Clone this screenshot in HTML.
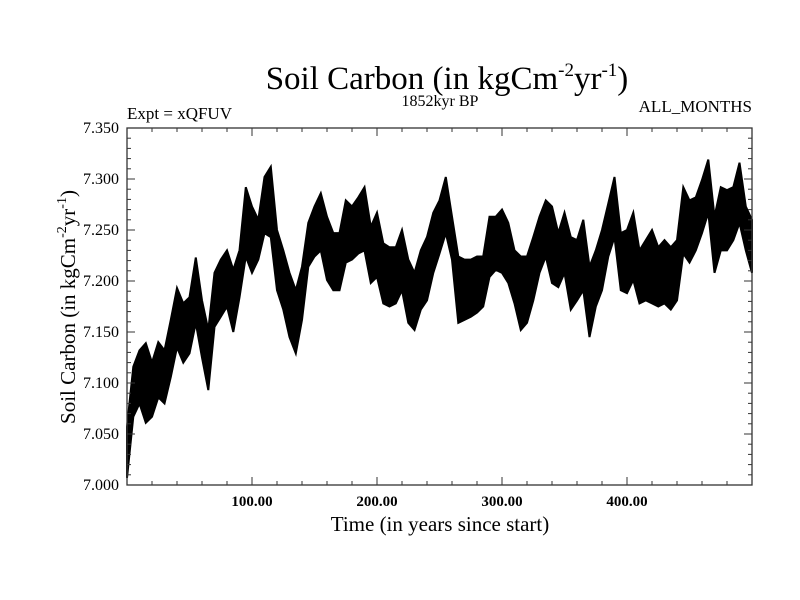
<!DOCTYPE html>
<html><head><meta charset="utf-8"><style>
body{margin:0;background:#fff;}
svg{display:block;font-family:"Liberation Serif",serif;}
</style></head><body>
<svg id="chart" width="800" height="600">
<rect width="800" height="600" fill="#fff"/>
<text x="447" y="89" font-size="33" text-anchor="middle">Soil Carbon (in kgCm<tspan font-size="19" dy="-13">-2</tspan><tspan dy="13">yr</tspan><tspan font-size="19" dy="-13">-1</tspan><tspan dy="13">)</tspan></text>
<text x="440" y="106" font-size="16" text-anchor="middle">1852kyr BP</text>
<text x="127" y="119" font-size="17">Expt = xQFUV</text>
<text x="752" y="112" font-size="17" text-anchor="end">ALL_MONTHS</text>
<text x="440" y="531" font-size="21" text-anchor="middle">Time (in years since start)</text>
<text transform="translate(75,307) rotate(-90)" font-size="21" text-anchor="middle">Soil Carbon (in kgCm<tspan font-size="14" dy="-9">-2</tspan><tspan dy="9">yr</tspan><tspan font-size="14" dy="-9">-1</tspan><tspan dy="9">)</tspan></text>
<g id="plot"></g>
</svg>
<script>
const years=[0,5,10,15,20,25,30,35,40,45,50,55,60,65,70,75,80,85,90,95,100,105,110,115,120,125,130,135,140,145,150,155,160,165,170,175,180,185,190,195,200,205,210,215,220,225,230,235,240,245,250,255,260,265,270,275,280,285,290,295,300,305,310,315,320,325,330,335,340,345,350,355,360,365,370,375,380,385,390,395,400,405,410,415,420,425,430,435,440,445,450,455,460,465,470,475,480,485,490,495,500];
const upper=[7.057,7.116,7.132,7.139,7.120,7.140,7.132,7.162,7.193,7.178,7.184,7.223,7.181,7.152,7.208,7.221,7.230,7.211,7.230,7.292,7.273,7.260,7.302,7.312,7.250,7.230,7.208,7.191,7.214,7.257,7.273,7.286,7.263,7.247,7.247,7.279,7.273,7.282,7.292,7.253,7.267,7.237,7.233,7.233,7.250,7.221,7.208,7.230,7.243,7.267,7.279,7.302,7.263,7.224,7.221,7.221,7.224,7.224,7.263,7.263,7.270,7.257,7.230,7.224,7.224,7.243,7.263,7.279,7.273,7.247,7.267,7.243,7.240,7.260,7.214,7.230,7.250,7.276,7.302,7.247,7.250,7.267,7.230,7.240,7.250,7.233,7.240,7.233,7.240,7.292,7.279,7.282,7.299,7.319,7.263,7.292,7.289,7.292,7.316,7.273,7.260];
const lower=[7.007,7.067,7.080,7.061,7.067,7.086,7.080,7.106,7.135,7.120,7.129,7.159,7.125,7.093,7.155,7.165,7.175,7.150,7.184,7.224,7.208,7.221,7.247,7.243,7.191,7.172,7.145,7.129,7.162,7.214,7.224,7.230,7.201,7.191,7.191,7.218,7.221,7.227,7.230,7.198,7.204,7.178,7.175,7.178,7.191,7.159,7.152,7.172,7.181,7.208,7.227,7.247,7.221,7.159,7.162,7.165,7.169,7.175,7.204,7.211,7.208,7.198,7.178,7.152,7.159,7.181,7.208,7.224,7.198,7.194,7.208,7.172,7.181,7.191,7.145,7.175,7.191,7.224,7.243,7.191,7.188,7.201,7.178,7.181,7.178,7.175,7.178,7.172,7.181,7.227,7.218,7.230,7.247,7.267,7.208,7.230,7.230,7.240,7.257,7.230,7.208];
const yTickLabels=["7.000","7.050","7.100","7.150","7.200","7.250","7.300","7.350"];
const xTickLabels=["100.00","200.00","300.00","400.00"];

const L=127,R=752,T=128,B=485,X0=0,X1=500,Y0=7.0,Y1=7.35;
const xs=v=>L+(v-X0)/(X1-X0)*(R-L);
const ys=v=>B-(v-Y0)/(Y1-Y0)*(B-T);
const NS="http://www.w3.org/2000/svg";
const g=document.getElementById('plot');
function mk(tag,attrs){const e=document.createElementNS(NS,tag);for(const k in attrs)e.setAttribute(k,attrs[k]);g.appendChild(e);return e;}

let pts=years.map((t,i)=>xs(t).toFixed(1)+","+ys(upper[i]).toFixed(1));
for(let i=years.length-1;i>=0;i--)pts.push(xs(years[i]).toFixed(1)+","+ys(lower[i]).toFixed(1));
const band=mk('polygon',{points:pts.join(' '),fill:'#000',stroke:'#000','stroke-width':'2','stroke-linejoin':'miter'});



const fr=mk('rect',{x:L,y:T,width:R-L,height:B-T,fill:'none',stroke:'#333','stroke-width':'1.3'});



for(let k=0;k<=35;k++){
  const v=Y0+k*0.01, y=ys(v), major=k%5===0, len=major?8:4;
  const t1=mk('line',{x1:L,x2:L+len,y1:y,y2:y,stroke:'#333','stroke-width':'1'});
  
  
  const t2=mk('line',{x1:R,x2:R-len,y1:y,y2:y,stroke:'#333','stroke-width':'1'});
  
  
}
yTickLabels.forEach(s=>{
  const tx=mk('text',{x:119,y:ys(parseFloat(s))+5,'font-size':'16','text-anchor':'end'});
  tx.textContent=s;
  
  
});
for(let k=0;k<=25;k++){
  const v=k*20, x=xs(v), major=v%100===0, len=major?8:4;
  const t1=mk('line',{x1:x,x2:x,y1:B,y2:B-len,stroke:'#333','stroke-width':'1'});
  
  
  const t2=mk('line',{x1:x,x2:x,y1:T,y2:T+len,stroke:'#333','stroke-width':'1'});
  
  
}
xTickLabels.forEach(s=>{
  const tx=mk('text',{x:xs(parseFloat(s)),y:506,'font-size':'15','text-anchor':'middle','font-weight':'bold'});
  tx.textContent=s;
  
  
});
</script>
</body></html>
